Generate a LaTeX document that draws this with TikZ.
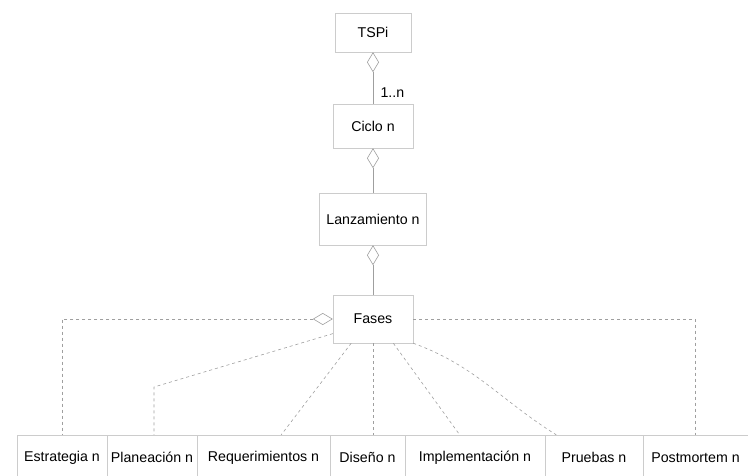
\documentclass[tikz,border=0pt]{standalone}
\usepackage{fontspec}
\setmainfont{Liberation Sans}
\usetikzlibrary{arrows,arrows.meta}

\begin{document}
\begin{tikzpicture}[x=1pt,y=-1pt]
			\tikzstyle{clase} = [
				rectangle, draw = gray!40, thin,
				inner sep = 0pt, font = \fontsize{14.2}{16}\selectfont
			]
			\tikzstyle{fase} = [clase, minimum height = 45pt]
			\tikzstyle{line}=[-,draw=gray!75,semithick]
			\tikzstyle{agrega}=[line,{Diamond[open,length=20pt,width=12pt]}-]
			\tikzstyle{dline}=[line,dashed]
			\useasboundingbox (0,0) rectangle (748,475);
			% clases de arriba
			\node[clase, minimum width = 76pt, minimum height = 39pt] (tspi) at (373,32.5) {TSPi};
			\node[clase, minimum width = 80pt, minimum height = 44pt] (ciclo) at (373,126) {Ciclo n};
			\node[clase, minimum width = 107pt, minimum height = 52pt] (lanz) at (373,219) {Lanzamiento n};
			\node[clase, minimum width = 80pt, minimum height = 48pt] (fases) at (373,319) {Fases};
			% fases
			\node[fase, minimum width = 90pt] (estr) at (62,457.5) {Estrategia n};
			\node[fase, minimum width = 90pt] (plan) at (152,457.5) {Planeación n};
			\node[fase, minimum width = 133pt] (req) at (263.5,457.5) {Requerimientos n};
			\node[fase, minimum width = 75pt] (dis) at (367.5,457.5) {Diseño n};
			\node[fase, minimum width = 140pt] (impl) at (475,457.5) {Implementación n};
			\node[fase, minimum width = 98pt] (pru) at (594,457.5) {Pruebas n};
			\node[fase, minimum width = 105pt] (post) at (695.5,457.5) {Postmortem n};
			\draw (tspi) to node[pos=0.78, anchor=west, xshift=4pt, font=\fontsize{14.2}{16}\selectfont] {1..n} (ciclo) [agrega];
			\draw (ciclo) to (lanz) [agrega];
			\draw (lanz) to (fases) [agrega];
			\draw (fases.west) -| (estr.north) [agrega,dashed];
			\draw (fases.200) -- (154,387) -- (plan.north -| 154,0) [dline];
			\draw (fases.228) -- (req.52) [dline];
			\draw (fases.south) -- (fases.south |- dis.north) [dline];
			\draw (fases.310) -- (impl.124) [dline];
			\draw (fases.south east) to[out=-20,in=148] (pru.149) [dline];
			\draw (fases.east) -| (post.north) [dline];
		\end{tikzpicture}
\end{document}
